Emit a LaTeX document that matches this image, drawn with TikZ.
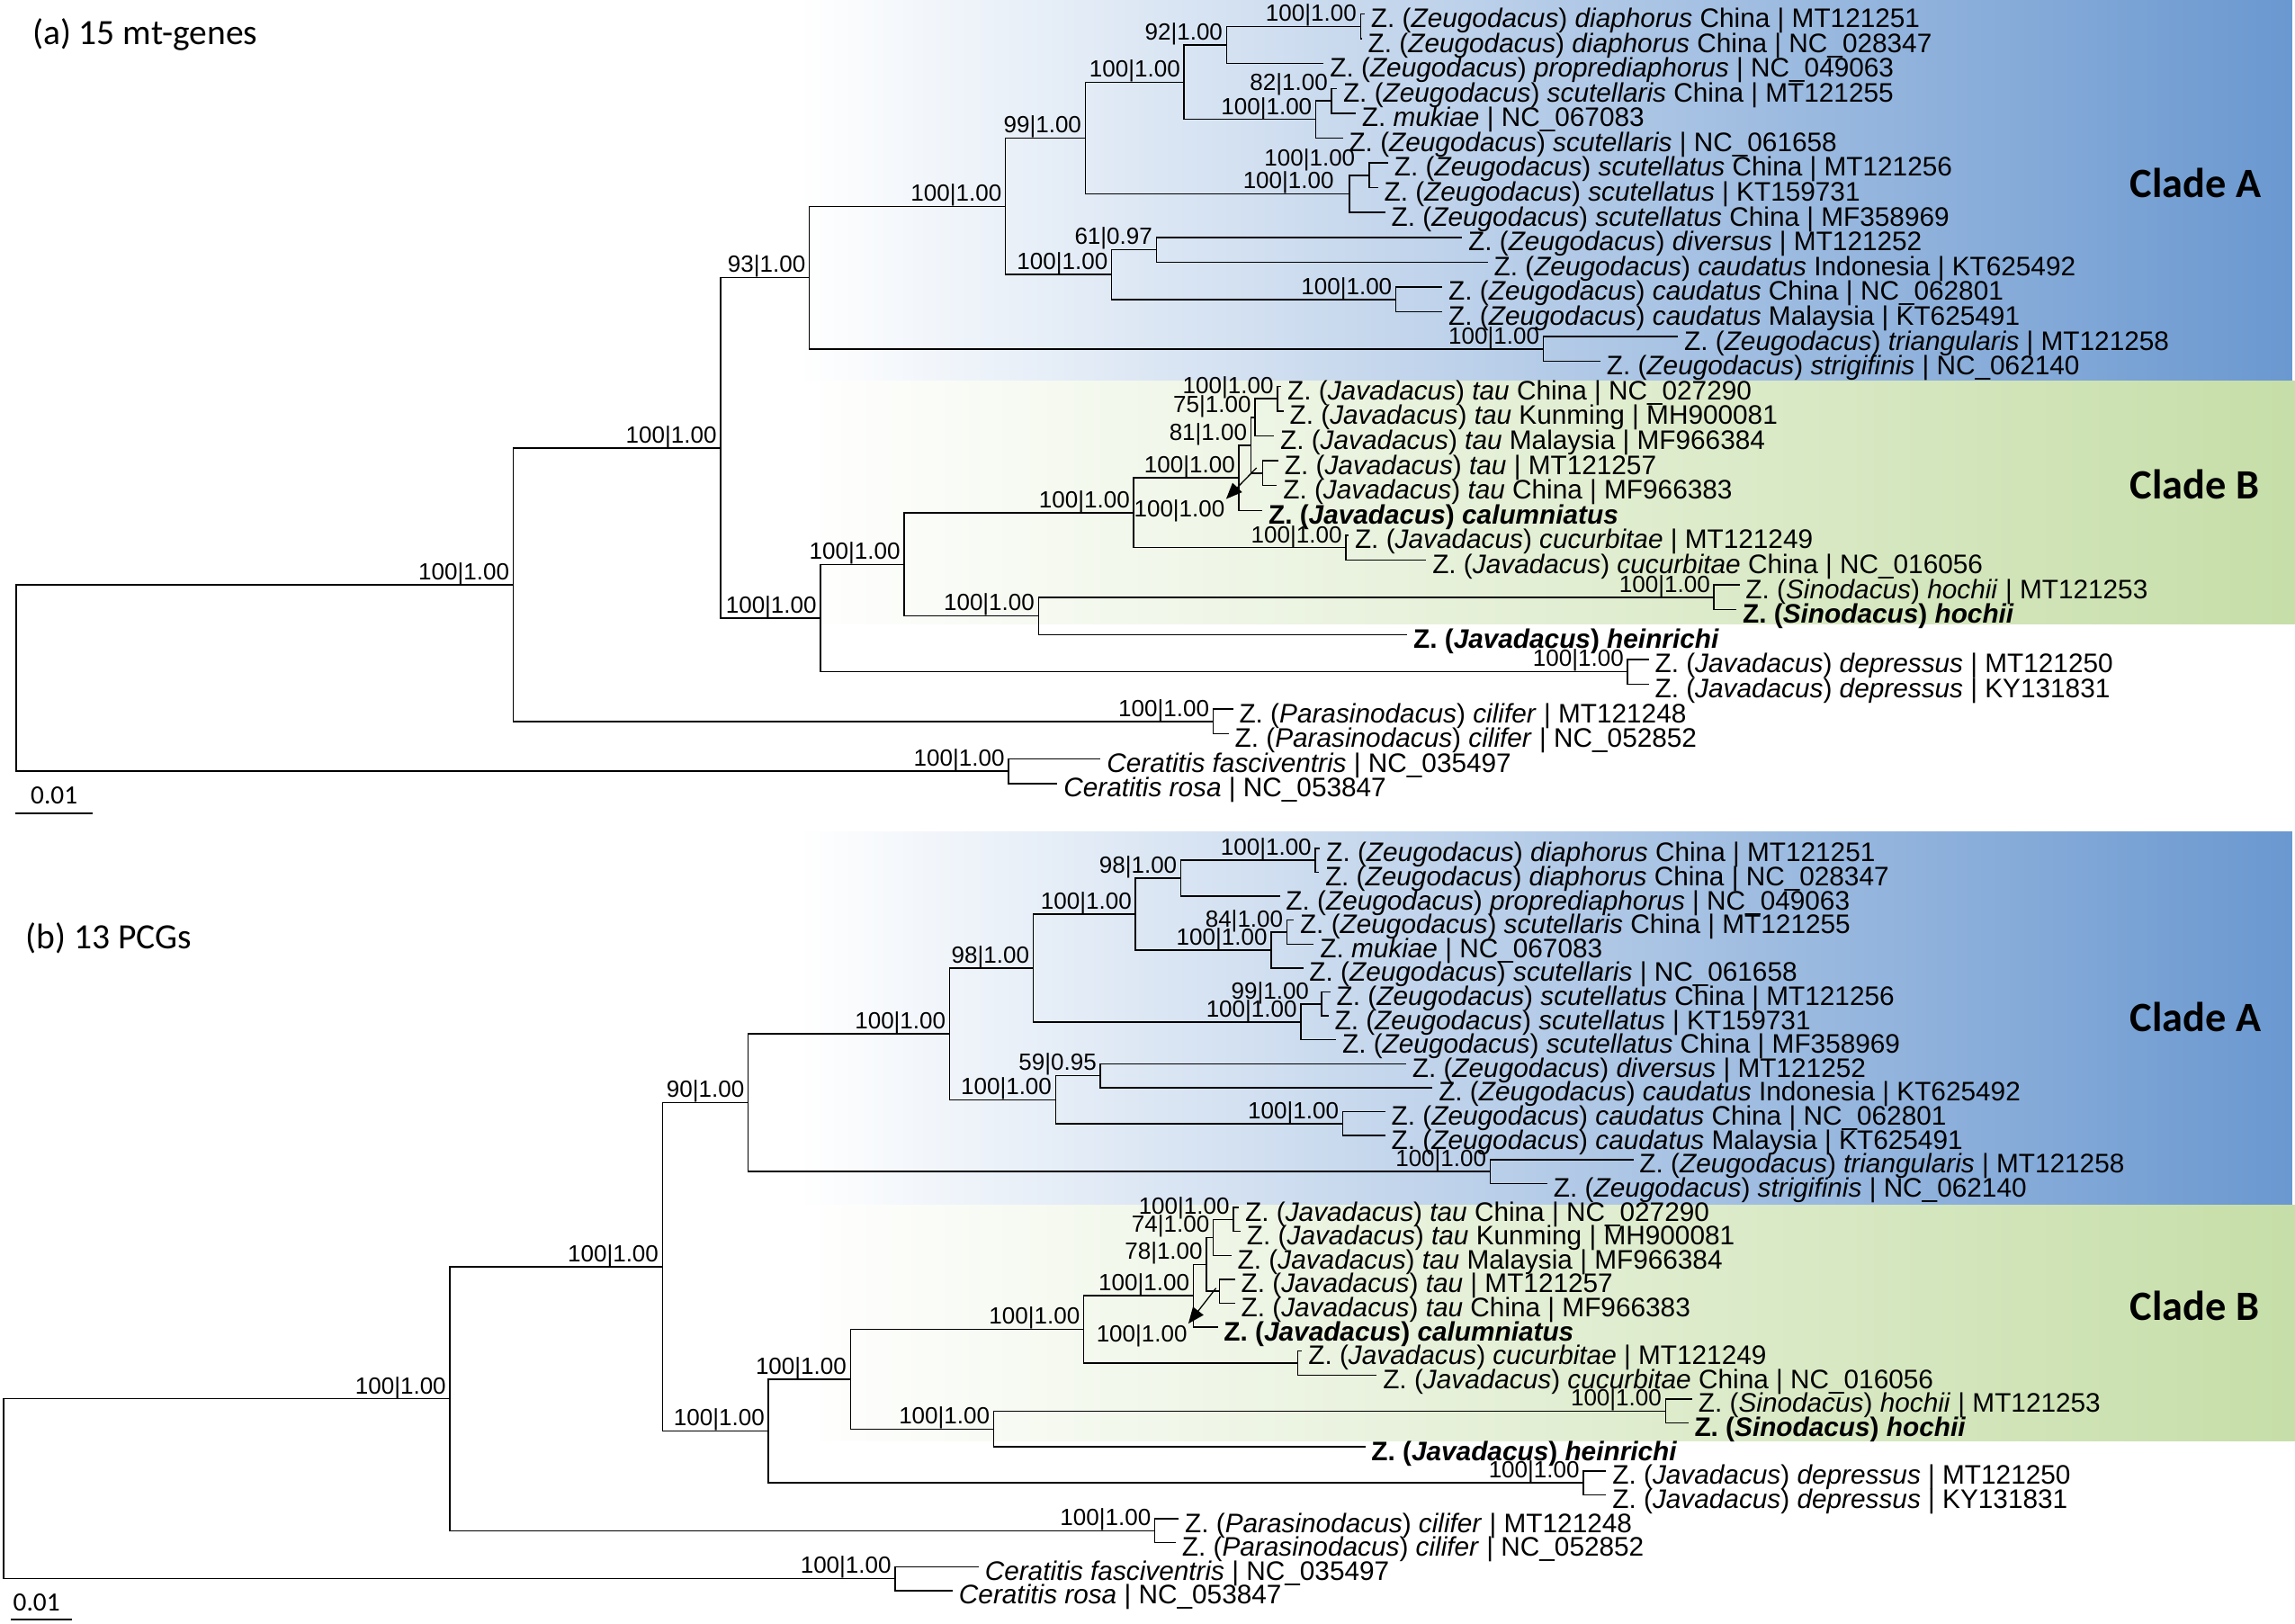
\documentclass[tikz,border=0pt]{standalone}
\usepackage{fontspec}
\setmainfont{Liberation Sans}
\newfontfamily\calib{Carlito}
\usetikzlibrary{calc,arrows.meta}
\definecolor{cladeAblue}{RGB}{106,152,208}
\definecolor{cladeBgreen}{RGB}{198,222,168}
\tikzset{
  branch/.style={line width=0.9pt, line cap=rect},
  taxon/.style={anchor=base west, inner sep=0pt, font=\fontsize{18.3}{18}\selectfont},
  support/.style={anchor=base east, inner sep=0pt, font=\fontsize{16}{16}\selectfont},
  cladetag/.style={anchor=base west, inner sep=0pt, font=\calib\bfseries\fontsize{28.5}{30}\selectfont},
  paneltitle/.style={anchor=base west, inner sep=0pt, font=\calib\fontsize{24.3}{26}\selectfont},
  scalelbl/.style={anchor=base, inner sep=0pt, font=\calib\fontsize{18}{20}\selectfont},
  pointer/.style={-{Triangle[length=11pt,width=9pt]}, line width=0.8pt, shorten >=1pt}
}
% taxon names
\newcommand\Zeu[1]{Z. (\textit{Zeugodacus}) \textit{#1}}
\newcommand\Jav[1]{Z. (\textit{Javadacus}) \textit{#1}}
\newcommand\Sino[1]{Z. (\textit{Sinodacus}) \textit{#1}}
\newcommand\Para[1]{Z. (\textit{Parasinodacus}) \textit{#1}}
% row heights of the two trees
\newcommand\rowa[1]{9.5+16.96*(#1-1)}
\newcommand\rowb[1]{579.5+16.36*(#1-1)}
% tip: name, x, y, text
\newcommand\tipat[4]{\coordinate (#1) at (#2,{#3});
  \node[taxon] (#1-t) at ([xshift=4.5pt,yshift=-9.2pt]#1) {#4};}
% inner node: name, x, upper child, lower child
\newcommand\joinat[4]{\path let \p1=(#3), \p2=(#4) in coordinate (#1) at (#2pt,{0.5*(\y1+\y2)});
  \draw[branch] (#1) |- (#3) (#1) |- (#4);}
% support value left of a node
\newcommand\suppat[3][]{\node[support,#1] (#2-s) at ([xshift=-2.5pt,yshift=3.5pt]#2) {#3};}

\begin{document}
\begin{tikzpicture}[x=1pt, y=-1pt]
\useasboundingbox (0,0) rectangle (1568,1109);
\fill[white] (0,0) rectangle (1568,1109);

% clade shading
\shade[left color=white, right color=cladeAblue] (545,0) rectangle (1566,260);
\shade[left color=white, right color=cladeBgreen] (545,260) rectangle (1568,426);
\shade[left color=white, right color=cladeAblue] (545,568.5) rectangle (1566,823.6);
\shade[left color=white, right color=cladeBgreen] (545,823.6) rectangle (1568,984.6);

\node[paneltitle] (titleA) at (22,30.7) {(a) 15 mt-genes};
\node[paneltitle] (titleB) at (17.5,648) {(b) 13 PCGs};
\node[cladetag] (aCladeA) at (1455,135) {Clade A};
\node[cladetag] (aCladeB) at (1455,341) {Clade B};
\node[cladetag] (bCladeA) at (1455,704.5) {Clade A};
\node[cladetag] (bCladeB) at (1455,902) {Clade B};

% ---- (a) 15 mt-genes
\tipat{a1}{932}{\rowa{1}}{\Zeu{diaphorus} China | MT121251}
\tipat{a2}{930}{\rowa{2}}{\Zeu{diaphorus} China | NC\_028347}
\tipat{a3}{904}{\rowa{3}}{\Zeu{proprediaphorus} | NC\_049063}
\tipat{a4}{913}{\rowa{4}}{\Zeu{scutellaris} China | MT121255}
\tipat{a5}{925.8}{\rowa{5}}{Z. \textit{mukiae} | NC\_067083}
\tipat{a6}{917}{\rowa{6}}{\Zeu{scutellaris} | NC\_061658}
\tipat{a7}{948}{\rowa{7}}{\Zeu{scutellatus} China | MT121256}
\tipat{a8}{941}{\rowa{8}}{\Zeu{scutellatus} | KT159731}
\tipat{a9}{946}{\rowa{9}}{\Zeu{scutellatus} China | MF358969}
\tipat{a10}{998.5}{\rowa{10}}{\Zeu{diversus} | MT121252}
\tipat{a11}{1016}{\rowa{11}}{\Zeu{caudatus} Indonesia | KT625492}
\tipat{a12}{985}{\rowa{12}}{\Zeu{caudatus} China | NC\_062801}
\tipat{a13}{985}{\rowa{13}}{\Zeu{caudatus} Malaysia | KT625491}
\tipat{a14}{1146}{\rowa{14}}{\Zeu{triangularis} | MT121258}
\tipat{a15}{1093}{\rowa{15}}{\Zeu{strigifinis} | NC\_062140}
\tipat{a16}{875}{\rowa{16}}{\Jav{tau} China | NC\_027290}
\tipat{a17}{876.5}{\rowa{17}}{\Jav{tau} Kunming | MH900081}
\tipat{a18}{870}{\rowa{18}}{\Jav{tau} Malaysia | MF966384}
\tipat{a19}{873}{\rowa{19}}{\Jav{tau} | MT121257}
\tipat{a20}{872}{\rowa{20}}{\Jav{tau} China | MF966383}
\tipat{a21}{862}{\rowa{21}}{\textbf{\Jav{calumniatus}}}
\tipat{a22}{921}{\rowa{22}}{\Jav{cucurbitae} | MT121249}
\tipat{a23}{974}{\rowa{23}}{\Jav{cucurbitae} China | NC\_016056}
\tipat{a24}{1188}{\rowa{24}}{\Sino{hochii} | MT121253}
\tipat{a25}{1186}{\rowa{25}}{\textbf{\Sino{hochii}}}
\tipat{a26}{961}{\rowa{26}}{\textbf{\Jav{heinrichi}}}
\tipat{a27}{1126}{\rowa{27}}{\Jav{depressus} | MT121250}
\tipat{a28}{1126}{\rowa{28}}{\Jav{depressus} | KY131831}
\tipat{a29}{842}{\rowa{29}}{\Para{cilifer} | MT121248}
\tipat{a30}{839}{\rowa{30}}{\Para{cilifer} | NC\_052852}
\tipat{a31}{751.5}{\rowa{31}}{\textit{Ceratitis fasciventris} | NC\_035497}
\tipat{a32}{722}{\rowa{32}}{\textit{Ceratitis rosa} | NC\_053847}

\joinat{aN15}{929.5}{a1}{a2}
\joinat{aN14}{838}{aN15}{a3}
\joinat{aN17}{909.8}{a4}{a5}
\joinat{aN16}{899}{aN17}{a6}
\joinat{aN8}{809}{aN14}{aN16}
\joinat{aN18}{935.5}{a7}{a8}
\joinat{aN13}{922}{aN18}{a9}
\joinat{aN7}{741.5}{aN8}{aN13}
\joinat{aN11}{790}{a10}{a11}
\joinat{aN12}{953.7}{a12}{a13}
\joinat{aN10}{759.5}{aN11}{aN12}
\joinat{aN5}{687}{aN7}{aN10}
\joinat{aN6}{1054.4}{a14}{a15}
\joinat{aN3}{553}{aN5}{aN6}
\joinat{aTop}{872.8}{a16}{a17}
\joinat{aN75}{857.4}{aTop}{a18}
\joinat{aPair}{862.6}{a19}{a20}
\joinat{aN81}{854.7}{aN75}{aPair}
\joinat{aTC}{846.5}{aN81}{a21}
\joinat{aCu}{919.5}{a22}{a23}
\joinat{aN20}{774.6}{aTC}{aCu}
\joinat{aHo}{1171}{a24}{a25}
\joinat{aN21}{709.5}{aHo}{a26}
\joinat{aN19}{617.7}{aN20}{aN21}
\joinat{aDe}{1112}{a27}{a28}
\joinat{aN4}{560.6}{aN19}{aDe}
\joinat{aN2}{492.3}{aN3}{aN4}
\joinat{aCi}{828.8}{a29}{a30}
\joinat{aN1}{350.6}{aN2}{aCi}
\joinat{aCe}{689}{a31}{a32}
\joinat{aRoot}{11.2}{aN1}{aCe}

\suppat{aN1}{100|1.00}
\suppat{aN2}{100|1.00}
\suppat{aN3}{93|1.00}
\suppat{aN4}{100|1.00}
\suppat{aN5}{100|1.00}
\suppat{aN6}{100|1.00}
\suppat{aN7}{99|1.00}
\suppat{aN8}{100|1.00}
\suppat{aN10}{100|1.00}
\suppat{aN11}{61|0.97}
\suppat{aN12}{100|1.00}
\suppat[xshift=-8pt]{aN13}{100|1.00}
\suppat{aN14}{92|1.00}
\suppat{aN15}{100|1.00}
\suppat{aN16}{100|1.00}
\suppat[yshift=3.5pt]{aN17}{82|1.00}
\suppat[xshift=-7pt,yshift=3pt]{aN18}{100|1.00}
\suppat{aN19}{100|1.00}
\suppat{aN20}{100|1.00}
\suppat{aN21}{100|1.00}
\suppat{aTC}{100|1.00}
\suppat{aN81}{81|1.00}
\suppat{aN75}{75|1.00}
\suppat{aTop}{100|1.00}
\suppat{aCu}{100|1.00}
\suppat{aHo}{100|1.00}
\suppat{aDe}{100|1.00}
\suppat{aCi}{100|1.00}
\suppat{aCe}{100|1.00}
% value of the short tau pair, moved out
\node[support] (aPair-s) at (837,353.4) {100|1.00};
\coordinate (aPairArr) at (858.5,319.6);
\draw[pointer] (aPairArr) -- (aPair-s.north east);

\coordinate (aBarL) at (11.2,555.7);
\coordinate (aBarR) at (62.7,555.7);
\draw[branch] (aBarL) -- (aBarR);
\node[scalelbl] (aBar-t) at (37,549) {0.01};

% ---- (b) 13 PCGs
\tipat{b1}{901.5}{\rowb{1}}{\Zeu{diaphorus} China | MT121251}
\tipat{b2}{900.7}{\rowb{2}}{\Zeu{diaphorus} China | NC\_028347}
\tipat{b3}{873.9}{\rowb{3}}{\Zeu{proprediaphorus} | NC\_049063}
\tipat{b4}{883.5}{\rowb{4}}{\Zeu{scutellaris} China | MT121255}
\tipat{b5}{897.2}{\rowb{5}}{Z. \textit{mukiae} | NC\_067083}
\tipat{b6}{889.9}{\rowb{6}}{\Zeu{scutellaris} | NC\_061658}
\tipat{b7}{908.5}{\rowb{7}}{\Zeu{scutellatus} China | MT121256}
\tipat{b8}{907.2}{\rowb{8}}{\Zeu{scutellatus} | KT159731}
\tipat{b9}{912.4}{\rowb{9}}{\Zeu{scutellatus} China | MF358969}
\tipat{b10}{960.2}{\rowb{10}}{\Zeu{diversus} | MT121252}
\tipat{b11}{978.3}{\rowb{11}}{\Zeu{caudatus} Indonesia | KT625492}
\tipat{b12}{946}{\rowb{12}}{\Zeu{caudatus} China | NC\_062801}
\tipat{b13}{946}{\rowb{13}}{\Zeu{caudatus} Malaysia | KT625491}
\tipat{b14}{1115.5}{\rowb{14}}{\Zeu{triangularis} | MT121258}
\tipat{b15}{1056.8}{\rowb{15}}{\Zeu{strigifinis} | NC\_062140}
\tipat{b16}{846.1}{\rowb{16}}{\Jav{tau} China | NC\_027290}
\tipat{b17}{847.2}{\rowb{17}}{\Jav{tau} Kunming | MH900081}
\tipat{b18}{840.9}{\rowb{18}}{\Jav{tau} Malaysia | MF966384}
\tipat{b19}{843.3}{\rowb{19}}{\Jav{tau} | MT121257}
\tipat{b20}{843.3}{\rowb{20}}{\Jav{tau} China | MF966383}
\tipat{b21}{831.5}{\rowb{21}}{\textbf{\Jav{calumniatus}}}
\tipat{b22}{889.2}{\rowb{22}}{\Jav{cucurbitae} | MT121249}
\tipat{b23}{940.2}{\rowb{23}}{\Jav{cucurbitae} China | NC\_016056}
\tipat{b24}{1155.7}{\rowb{24}}{\Sino{hochii} | MT121253}
\tipat{b25}{1153}{\rowb{25}}{\textbf{\Sino{hochii}}}
\tipat{b26}{932.3}{\rowb{26}}{\textbf{\Jav{heinrichi}}}
\tipat{b27}{1097}{\rowb{27}}{\Jav{depressus} | MT121250}
\tipat{b28}{1097}{\rowb{28}}{\Jav{depressus} | KY131831}
\tipat{b29}{804.9}{\rowb{29}}{\Para{cilifer} | MT121248}
\tipat{b30}{802.9}{\rowb{30}}{\Para{cilifer} | NC\_052852}
\tipat{b31}{668.2}{\rowb{31}}{\textit{Ceratitis fasciventris} | NC\_035497}
\tipat{b32}{650.5}{\rowb{32}}{\textit{Ceratitis rosa} | NC\_053847}

\joinat{bN15}{898.7}{b1}{b2}
\joinat{bN14}{806.8}{bN15}{b3}
\joinat{bN17}{879.3}{b4}{b5}
\joinat{bN16}{868.5}{bN17}{b6}
\joinat{bN8}{775.8}{bN14}{bN16}
\joinat{bN18}{903}{b7}{b8}
\joinat{bN13}{888.8}{bN18}{b9}
\joinat{bN7}{705.9}{bN8}{bN13}
\joinat{bN11}{751.8}{b10}{b11}
\joinat{bN12}{917.3}{b12}{b13}
\joinat{bN10}{721.2}{bN11}{bN12}
\joinat{bN5}{648.8}{bN7}{bN10}
\joinat{bN6}{1018.2}{b14}{b15}
\joinat{bN3}{511.2}{bN5}{bN6}
\joinat{bTop}{842.7}{b16}{b17}
\joinat{bN75}{829}{bTop}{b18}
\joinat{bPair}{833}{b19}{b20}
\joinat{bN81}{824.3}{bN75}{bPair}
\joinat{bTC}{815.3}{bN81}{b21}
\joinat{bCu}{886.6}{b22}{b23}
\joinat{bN20}{740.5}{bTC}{bCu}
\joinat{bHo}{1137.9}{b24}{b25}
\joinat{bN21}{678.9}{bHo}{b26}
\joinat{bN19}{581}{bN20}{bN21}
\joinat{bDe}{1081.8}{b27}{b28}
\joinat{bN4}{525}{bN19}{bDe}
\joinat{bN2}{452.6}{bN3}{bN4}
\joinat{bCi}{789}{b29}{b30}
\joinat{bN1}{307.4}{bN2}{bCi}
\joinat{bCe}{611.6}{b31}{b32}
\joinat{bRoot}{2.5}{bN1}{bCe}

\suppat{bN1}{100|1.00}
\suppat{bN2}{100|1.00}
\suppat{bN3}{90|1.00}
\suppat{bN4}{100|1.00}
\suppat{bN5}{100|1.00}
\suppat{bN6}{100|1.00}
\suppat{bN7}{98|1.00}
\suppat{bN8}{100|1.00}
\suppat{bN10}{100|1.00}
\suppat{bN11}{59|0.95}
\suppat{bN12}{100|1.00}
\suppat{bN13}{100|1.00}
\suppat{bN14}{98|1.00}
\suppat{bN15}{100|1.00}
\suppat{bN16}{100|1.00}
\suppat{bN17}{84|1.00}
\suppat[xshift=-6pt]{bN18}{99|1.00}
\suppat{bN19}{100|1.00}
\suppat{bN20}{100|1.00}
\suppat{bN21}{100|1.00}
\suppat{bTC}{100|1.00}
\suppat{bN81}{78|1.00}
\suppat{bN75}{74|1.00}
\suppat{bTop}{100|1.00}
\suppat{bHo}{100|1.00}
\suppat{bDe}{100|1.00}
\suppat{bCi}{100|1.00}
\suppat{bCe}{100|1.00}
\node[support] (bPair-s) at (811.3,916.8) {100|1.00};
\coordinate (bPairArr) at (830.8,880);
\draw[pointer] (bPairArr) -- (bPair-s.north east);

\coordinate (bBarL) at (7.6,1106.4);
\coordinate (bBarR) at (48.6,1106.4);
\draw[branch] (bBarL) -- (bBarR);
\node[scalelbl] (bBar-t) at (25,1100.5) {0.01};
\end{tikzpicture}
\end{document}
